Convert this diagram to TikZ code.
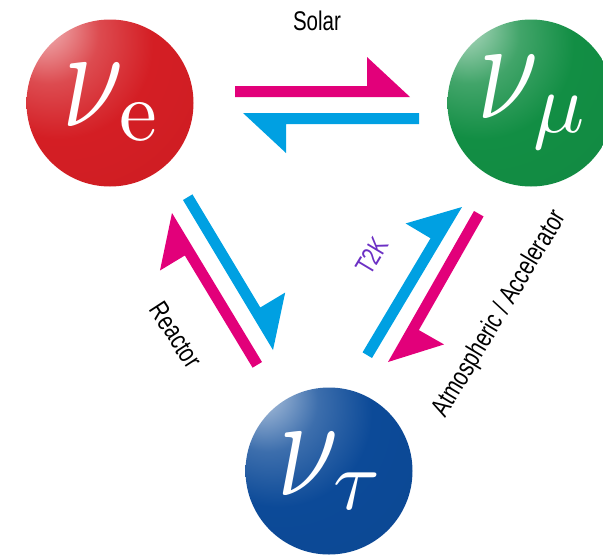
\documentclass[tikz,border=0pt]{standalone}
\usepackage{fontspec}
\usepackage{graphicx}
\usetikzlibrary{calc}
\newfontfamily\labelfont{Liberation Sans}[FakeStretch=0.76]
\definecolor{nured}{RGB}{212,30,36}
\definecolor{nugreen}{RGB}{18,142,68}
\definecolor{nublue}{RGB}{12,74,152}
\definecolor{oscpink}{RGB}{226,0,122}
\definecolor{osccyan}{RGB}{0,160,226}
\definecolor{ttkviolet}{RGB}{108,48,196}

% glossy ball shading, highlight up left
\newcommand{\makesphere}[2]{%
  \pgfdeclareradialshading{#1}{\pgfpoint{-22bp}{25bp}}{%
    color(0bp)=(white!88!#2); color(4bp)=(white!60!#2); color(15bp)=(white!20!#2);
    color(28bp)=(#2); color(62bp)=(#2!95!black); color(90bp)=(#2!85!black)}}
\makesphere{redball}{nured}
\makesphere{greenball}{nugreen}
\makesphere{blueball}{nublue}

\newcommand{\flavour}[1]{\scalebox{11}[14.5]{$\nu$}\kern-5pt\raisebox{-14pt}{\scalebox{8.5}{$#1$}}}

\begin{document}
\begin{tikzpicture}[x=1pt, y=-1pt,
  sphere/.style={circle, minimum size=167pt, inner sep=0pt, text=white},
  flowlabel/.style={font=\labelfont\fontsize{27}{27}\selectfont, inner sep=0pt},
  harp/.style={to path={-- (\tikztotarget)
      -- ($(\tikztotarget)!43pt!(\tikztostart)!40pt!90:(\tikztotarget)$)
      -- ($(\tikztotarget)!43pt!(\tikztostart)!11pt!90:(\tikztotarget)$)
      -- ($(\tikztostart)!11pt!90:(\tikztotarget)$) -- cycle}}
]
  \clip (0,0) rectangle (603,555);

  % the three flavours
  \node[sphere, shading=redball] (ve) at (110,103) {\flavour{\mathrm{e}}};
  \node[sphere, shading=greenball] (vmu) at (531,103) {\flavour{\mu}};
  \node[sphere, shading=blueball] (vtau) at (329,471) {\flavour{\tau}};

  % harpoon ends
  \coordinate (sol1) at (235,97);  \coordinate (sol2) at (410,97);
  \coordinate (sol3) at (419,113); \coordinate (sol4) at (243,113);
  \coordinate (rea1) at (183,200); \coordinate (rea2) at (273,350);
  \coordinate (rea3) at (262,362); \coordinate (rea4) at (172,213);
  \coordinate (acc1) at (372,358); \coordinate (acc2) at (462,207);
  \coordinate (acc3) at (474,211); \coordinate (acc4) at (388,362);

  \fill[oscpink] (sol1) to[harp] (sol2);
  \fill[osccyan] (sol3) to[harp] (sol4);
  \fill[osccyan] (rea1) to[harp] (rea2);
  \fill[oscpink] (rea3) to[harp] (rea4);
  \fill[osccyan] (acc1) to[harp] (acc2);
  \fill[oscpink] (acc3) to[harp] (acc4);

  % labels
  \node[flowlabel] (solar) at (317,21) {Solar};
  \node[flowlabel, rotate=-57] (reactor) at (176,335) {Reactor};
  \node[flowlabel, rotate=59, text=ttkviolet] (ttk) at (372,256) {T2K};
  \node[flowlabel, rotate=59] (atmacc) at (500,314) {Atmospheric / Accelerator};
\end{tikzpicture}
\end{document}
